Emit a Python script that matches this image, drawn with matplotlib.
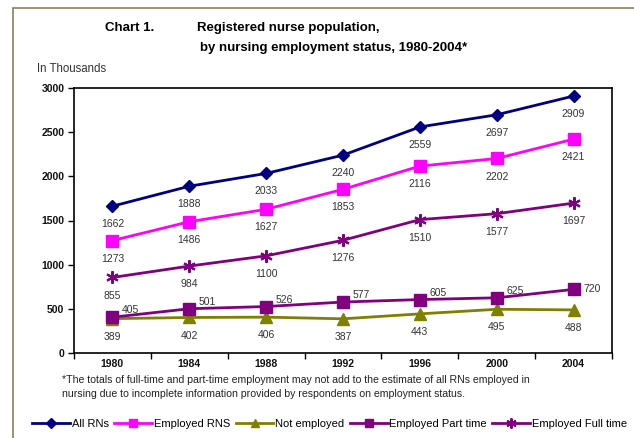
import matplotlib
matplotlib.use('Agg')
import matplotlib.pyplot as plt
from matplotlib.patches import Rectangle

plt.rcParams['font.family'] = ['Liberation Sans', 'DejaVu Sans']

# data (thousands)
years = ['1980', '1984', '1988', '1992', '1996', '2000', '2004']
all_rns = [1662, 1888, 2033, 2240, 2559, 2697, 2909]
employed_rns = [1273, 1486, 1627, 1853, 2116, 2202, 2421]
not_employed = [389, 402, 406, 387, 443, 495, 488]
part_time = [405, 501, 526, 577, 605, 625, 720]
full_time = [855, 984, 1100, 1276, 1510, 1577, 1697]

fig = plt.figure(figsize=(6.34, 4.38), dpi=100)
fig.patch.set_facecolor('white')

# outer frame (runs off the right and bottom edge)
fig.patches.append(Rectangle((13 / 634, -0.05), 1.0, 1 - 8 / 438 + 0.05,
                             transform=fig.transFigure, fill=False,
                             edgecolor='#8a7f5e', linewidth=1.2))

ax = fig.add_axes([74 / 634, 85 / 438, (612 - 74) / 634, (353 - 88) / 438])

x = [i + 0.5 for i in range(len(years))]

series = [
    (all_rns, 'All RNs', '#000080', 'D', 6.5, 'below'),
    (employed_rns, 'Employed RNS', '#FF00FF', 's', 8, 'below'),
    (not_employed, 'Not employed', '#808000', '^', 8, 'below'),
    (part_time, 'Employed Part time', '#800080', 's', 8, 'right'),
    (full_time, 'Employed Full time', '#800080', (6, 2, 0), 9, 'below'),
]

handles = []
for vals, name, col, mk, ms, pos in series:
    h, = ax.plot(x, vals, color=col, marker=mk, markersize=ms, linewidth=2,
                 markeredgecolor=col, markeredgewidth=1.5 if mk == (6, 2, 0) else 1,
                 label=name, clip_on=False, zorder=3)
    handles.append(h)
    for i, v in enumerate(vals):
        if pos == 'below':
            ax.annotate(str(v), (x[i], v), xytext=(0, -13), textcoords='offset points',
                        ha='center', va='center', fontsize=7.5, color='#333333')
        else:
            dy = 0 if i == len(vals) - 1 else 5
            ax.annotate(str(v), (x[i], v), xytext=(7, dy), textcoords='offset points',
                        ha='left', va='center', fontsize=7.5, color='#333333')

ax.set_xlim(0, 7)
ax.set_ylim(0, 3000)
ax.set_yticks(range(0, 3001, 500))
ax.set_xticks(range(8))
ax.set_xticklabels([])
ax.set_xticks(x, minor=True)
ax.set_xticklabels(years, minor=True)
ax.tick_params(axis='x', which='major', length=4, width=1, direction='out')
ax.tick_params(axis='x', which='minor', length=0, pad=4, labelsize=7.5)
ax.tick_params(axis='y', length=4, width=1, direction='out', labelsize=7.5, pad=3)
for lab in ax.get_xticklabels(minor=True) + ax.get_yticklabels():
    lab.set_fontweight('bold')
    lab.set_color('#111111')
for sp in ax.spines.values():
    sp.set_linewidth(1.2)

# titles
fig.text(105 / 634, 1 - 28 / 438, 'Chart 1.', fontsize=9.5, fontweight='bold', va='center')
fig.text(197 / 634, 1 - 28 / 438, 'Registered nurse population,', fontsize=9.5,
         fontweight='bold', va='center')
fig.text(200 / 634, 1 - 48 / 438, 'by nursing employment status, 1980-2004*', fontsize=9.5,
         fontweight='bold', va='center')
fig.text(37 / 634, 1 - 69 / 438, 'In Thousands', fontsize=8.3, color='#333333', va='center')

# footnote
fig.text(62 / 634, 1 - 387 / 438,
         '*The totals of full-time and part-time employment may not add to the estimate of all RNs employed in\n'
         'nursing due to incomplete information provided by respondents on employment status.',
         fontsize=7.6, color='#222222', va='center', linespacing=1.45)

fig.legend(handles=handles, loc='center', bbox_to_anchor=(0.52, 1 - 424 / 438), ncol=5,
           frameon=False, fontsize=8, handlelength=3.4, handletextpad=0.15,
           columnspacing=0.5, markerscale=0.8, borderpad=0.1)

fig.savefig('out.png', dpi=100)
